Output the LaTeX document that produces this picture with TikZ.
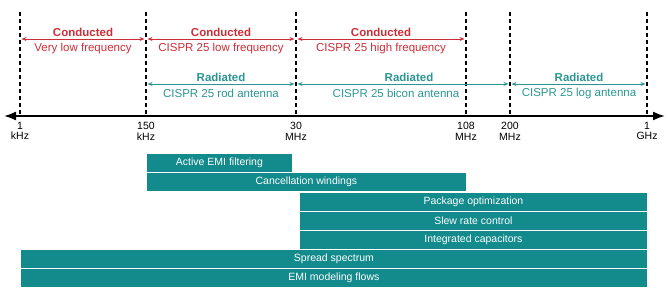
\documentclass[tikz,border=0pt]{standalone}
\usepackage{fontspec}
\setmainfont{Liberation Sans}
\usetikzlibrary{arrows.meta}
\definecolor{condred}{HTML}{CC2E38}
\definecolor{radteal}{HTML}{2A9692}
\definecolor{barteal}{HTML}{138A8C}
\begin{document}
\begin{tikzpicture}[x=1pt, y=-1pt, every node/.style={font=\fontsize{11.5}{12}\selectfont},
    guide/.style={line width=1.3pt, dash pattern=on 4pt off 3pt},
    dimarrow/.style={{Stealth[length=5pt,width=4pt]}-{Stealth[length=5pt,width=4pt]}, line width=0.9pt, shorten <=1.5pt, shorten >=1.5pt},
    tick/.style={anchor=north, align=center, inner sep=0pt, font=\fontsize{10.5}{10.5}\selectfont},
    band/.style={fill=barteal, draw=white, line width=0.8pt, text=white, minimum height=19pt, anchor=north west, inner sep=0pt, font=\fontsize{10.5}{12}\selectfont}]
    \useasboundingbox (0,0) rectangle (669,290);
    % frequency axis
    \coordinate (axl) at (4,116);
    \coordinate (axr) at (665,116);
    \draw[line width=1.8pt, {Latex[length=12pt,width=9pt]}-{Latex[length=12pt,width=9pt]}] (axl) -- (axr);
    \foreach \x/\n/\u [count=\i] in {20/1/kHz, 146/150/kHz, 296/30/MHz, 466/108/MHz, 510/200/MHz, 647/1/GHz} {
        \coordinate (g\i) at (\x,12);
        \draw[guide] (g\i) -- (g\i |- axl);
        \node[tick] (t\i) at (\x,122) {\n\\\u};
    }
    % conducted bands
    \draw[dimarrow, condred] (g1 |- 0,39) -- (g2 |- 0,39);
    \draw[dimarrow, condred] (g2 |- 0,39) -- (g3 |- 0,39);
    \draw[dimarrow, condred] (g3 |- 0,39) -- (g4 |- 0,39);
    \node[condred, font=\fontsize{11.5}{12}\selectfont\bfseries] (c1) at (83,32.5) {Conducted};
    \node[condred] (cs1) at (83,48.5) {Very low frequency};
    \node[condred, font=\fontsize{11.5}{12}\selectfont\bfseries] (c2) at (221,32.5) {Conducted};
    \node[condred] (cs2) at (221,48.5) {CISPR 25 low frequency};
    \node[condred, font=\fontsize{11.5}{12}\selectfont\bfseries] (c3) at (381,32.5) {Conducted};
    \node[condred] (cs3) at (381,48.5) {CISPR 25 high frequency};
    % radiated bands
    \draw[dimarrow, radteal] (g2 |- 0,84) -- (g3 |- 0,84);
    \draw[dimarrow, radteal] (g3 |- 0,84) -- (g5 |- 0,84);
    \draw[dimarrow, radteal] (g5 |- 0,84) -- (g6 |- 0,84);
    \node[radteal, font=\fontsize{11.5}{12}\selectfont\bfseries] (r1) at (221,77.5) {Radiated};
    \node[radteal] (rs1) at (221,93.5) {CISPR 25 rod antenna};
    \node[radteal, font=\fontsize{11.5}{12}\selectfont\bfseries] (r2) at (409,77.5) {Radiated};
    \node[radteal] (rs2) at (396,93.5) {CISPR 25 bicon antenna};
    \node[radteal, font=\fontsize{11.5}{12}\selectfont\bfseries] (r3) at (579,77.5) {Radiated};
    \node[radteal] (rs3) at (579,93.5) {CISPR 25 log antenna};
    % mitigation techniques
    \node[band, minimum width=146] (active) at (146,153) {Active EMI filtering};
    \node[band, minimum width=320] (cancel) at (146,172) {Cancellation windings};
    \node[band, minimum width=348] (pack) at (299,191.5) {Package optimization};
    \node[band, minimum width=348] (slew) at (299,210.5) {Slew rate control};
    \node[band, minimum width=348] (caps) at (299,229.5) {Integrated capacitors};
    \node[band, minimum width=627] (spread) at (20,248.5) {Spread spectrum};
    \node[band, minimum width=627] (model) at (20,267.5) {EMI modeling flows};
\end{tikzpicture}
\end{document}
